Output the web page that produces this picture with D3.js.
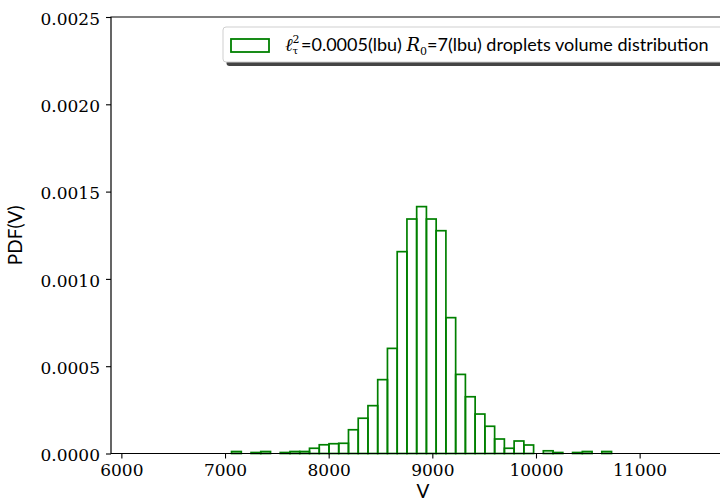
<!DOCTYPE html>
<html><head><meta charset="utf-8">
<script src="https://cdn.jsdelivr.net/npm/d3@7"></script>
<style>html,body{margin:0;padding:0;background:#fff;overflow:hidden}svg{display:block}</style>
</head><body>
<svg id="chart" width="760" height="501"></svg>
<script>
// Droplet volume histogram: first bin edge, bin width and probability density per bin
const binStart = 7063;
const binWidth = 94;
const density = [
  0.0000114, 0, 0.0000057, 0.0000114, 0, 0.0000057, 0.0000114, 0.0000114,
  0.000030, 0.000050, 0.000056, 0.0000585, 0.000136, 0.000202, 0.000274,
  0.000423, 0.000602, 0.001156, 0.001343, 0.001414, 0.001343, 0.001276,
  0.000778, 0.000453, 0.000325, 0.000226, 0.000156, 0.000083, 0.000030,
  0.0000716, 0.0000487, 0, 0.0000155, 0.0000057, 0, 0.0000057, 0.0000114,
  0, 0.0000114
];
const xTicks = [6000, 7000, 8000, 9000, 10000, 11000];
const yTicks = [0, 0.0005, 0.0010, 0.0015, 0.0020, 0.0025];
const xDomain = [5900, 11920];
const yDomain = [0, 0.0025];
const xLabel = "V";
const yLabel = "PDF(V)";

const svg = d3.select("#chart");
const plot = {left: 111, top: 17, right: 735, bottom: 453.5};
const x = d3.scaleLinear().domain(xDomain).range([plot.left, plot.right]);
const y = d3.scaleLinear().domain(yDomain).range([plot.bottom, plot.top]);
const green = "#008000";
const tickFont = "'DejaVu Serif', serif";
const sansFont = "Lato, 'DejaVu Sans', sans-serif";

svg.append("rect").attr("width", 760).attr("height", 501).attr("fill", "#fff");

// histogram bars (outlined, unfilled)
const bins = density.map((d, i) => ({x0: binStart + i * binWidth, x1: binStart + (i + 1) * binWidth, d}));
svg.append("g").selectAll("rect").data(bins.filter(b => b.d > 0)).join("rect")
  .attr("x", b => x(b.x0))
  .attr("width", b => x(b.x1) - x(b.x0))
  .attr("y", b => y(b.d))
  .attr("height", b => y(0) - y(b.d))
  .attr("fill", "none")
  .attr("stroke", green)
  .attr("stroke-width", 1.7);

// frame: left, top and bottom spines (right spine lies past the visible area)
svg.append("path")
  .attr("d", `M${plot.right + 20},${plot.top}H${plot.left}V${plot.bottom}H${plot.right + 20}`)
  .attr("fill", "none").attr("stroke", "#000").attr("stroke-width", 1.2);

// axes
const gx = svg.append("g").attr("transform", `translate(0,${plot.bottom})`)
  .call(d3.axisBottom(x).tickValues(xTicks).tickFormat(d3.format("d")).tickSize(5).tickSizeOuter(0).tickPadding(5));
const gy = svg.append("g").attr("transform", `translate(${plot.left},0)`)
  .call(d3.axisLeft(y).tickValues(yTicks).tickFormat(d3.format(".4f")).tickSize(5).tickSizeOuter(0).tickPadding(6));
[gx, gy].forEach(g => {
  g.select(".domain").remove();
  g.selectAll(".tick line").attr("stroke", "#000").attr("stroke-width", 1.1);
  g.selectAll(".tick text").attr("font-family", tickFont).attr("font-size", 17).attr("fill", "#000");
});
gy.selectAll(".tick text").attr("dy", "0.42em");

// axis titles
svg.append("text").attr("x", (plot.left + plot.right) / 2).attr("y", 498)
  .attr("text-anchor", "middle").attr("font-family", sansFont).attr("font-size", 19).text(xLabel);
svg.append("text").attr("transform", `translate(22,${(plot.top + plot.bottom) / 2}) rotate(-90)`)
  .attr("text-anchor", "middle").attr("font-family", sansFont).attr("font-size", 19).text(yLabel);

// legend
const leg = {x: 223, y: 27, w: 505, h: 35};
svg.append("rect").attr("x", leg.x + 3.5).attr("y", leg.y + 4).attr("width", leg.w).attr("height", leg.h)
  .attr("rx", 3).attr("fill", "#444");
svg.append("rect").attr("x", leg.x).attr("y", leg.y).attr("width", leg.w).attr("height", leg.h)
  .attr("rx", 3).attr("fill", "#fff").attr("stroke", "#cfcfcf").attr("stroke-width", 1);
svg.append("rect").attr("x", 231).attr("y", 39).attr("width", 38).attr("height", 13)
  .attr("fill", "none").attr("stroke", green).attr("stroke-width", 1.8);

const mathFont = "'DejaVu Serif', serif";
const lt = svg.append("text").attr("x", 285).attr("y", 51).attr("font-family", sansFont).attr("font-size", 18);
lt.append("tspan").attr("font-family", mathFont).attr("font-style", "italic").text("ℓ");
const sup = lt.append("tspan").attr("font-family", mathFont).attr("font-size", 11).attr("dy", -8).text("2");
const sub = lt.append("tspan").attr("font-family", mathFont).attr("font-size", 10).attr("dy", 11).text("τ");
const eq = lt.append("tspan").attr("dy", -3).text("=0.0005(lbu) ");
lt.append("tspan").attr("font-family", mathFont).attr("font-style", "italic").text("R");
lt.append("tspan").attr("font-family", mathFont).attr("font-size", 11).attr("dy", 4).text("0");
lt.append("tspan").attr("dy", -4).text("=7(lbu) droplets volume distribution");
const wSup = sup.node().getComputedTextLength();
const wSub = sub.node().getComputedTextLength();
sub.attr("dx", -wSup);
eq.attr("dx", Math.max(0, wSup - wSub) + 1.5);
</script>
</body></html>
